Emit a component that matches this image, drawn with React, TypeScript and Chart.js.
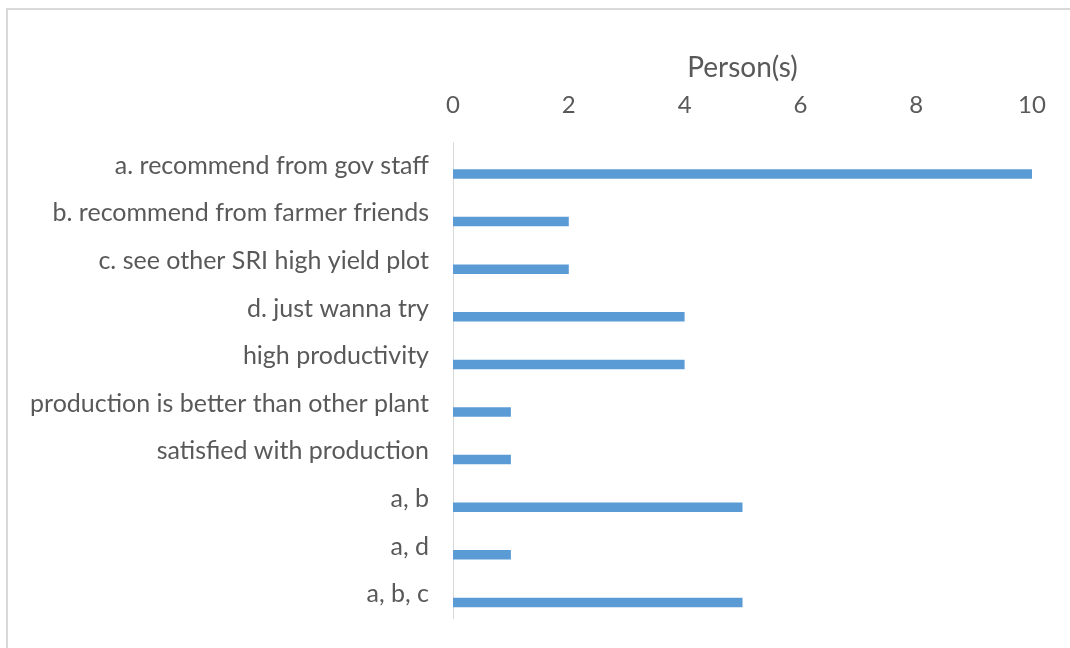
import React, { useEffect, useRef } from "react";
import { Chart, registerables } from "chart.js";

Chart.register(...registerables);

const categories = [
  "a. recommend from gov staff",
  "b. recommend from farmer friends",
  "c. see other SRI high yield plot",
  "d. just wanna try",
  "high productivity",
  "production is better than other plant",
  "satisfied with production",
  "a, b",
  "a, d",
  "a, b, c",
];
const persons = [10, 2, 2, 4, 4, 1, 1, 5, 1, 5];
const emptySeries = [null, null, null, null, null, null, null, null, null, null];
const xTicks = [0, 2, 4, 6, 8, 10];
const xTitle = "Person(s)";

const FONT = "Lato";
const TEXT = "#595959";

export default function App() {
  const ref = useRef<HTMLCanvasElement | null>(null);
  useEffect(() => {
    if (!ref.current) return;
    const chart = new Chart(ref.current, {
      type: "bar",
      data: {
        labels: categories,
        datasets: [
          { label: "", data: emptySeries as any, backgroundColor: "#5B9BD5" },
          { label: xTitle, data: persons, backgroundColor: "#5B9BD5", borderWidth: 0 },
        ],
      },
      options: {
        indexAxis: "y",
        responsive: false,
        animation: false,
        categoryPercentage: 0.69,
        barPercentage: 0.58,
        layout: { padding: { left: 0, right: 38, top: 0, bottom: 30 } },
        plugins: { legend: { display: false }, tooltip: { enabled: false } },
        scales: {
          x: {
            position: "top",
            min: 0,
            max: 10,
            afterBuildTicks: (scale: any) => {
              scale.ticks = xTicks.map((v) => ({ value: v }));
            },
            afterFit: (scale: any) => {
              scale.height = 142;
              scale.paddingLeft = 0;
              scale.paddingRight = 0;
            },
            grid: { display: false, drawTicks: false },
            border: { display: false },
            ticks: { color: TEXT, font: { family: FONT, size: 24 }, padding: 22 },
            title: {
              display: true,
              text: xTitle,
              color: TEXT,
              font: { family: FONT, size: 28 },
              padding: { top: 51, bottom: 0 },
            },
          },
          y: {
            afterFit: (scale: any) => {
              scale.width = 453;
              scale.paddingTop = 0;
              scale.paddingBottom = 0;
            },
            grid: { display: false, drawTicks: false },
            border: { display: true, color: "#d9d9d9", width: 1 },
            ticks: { color: TEXT, font: { family: FONT, size: 25 }, padding: 24 },
          },
        },
      },
    } as any);
    return () => chart.destroy();
  }, []);
  return (
    <div style={{ position: "absolute", left: 0, top: 0, width: 1070, height: 648, background: "#fff", overflow: "hidden" }}>
      <div
        style={{
          position: "absolute",
          left: 6,
          top: 8,
          width: 1100,
          height: 700,
          borderTop: "2px solid #d9d9d9",
          borderLeft: "2px solid #d9d9d9",
        }}
      />
      <canvas ref={ref} width={1070} height={648} style={{ position: "absolute", left: 0, top: 0 }} />
    </div>
  );
}
